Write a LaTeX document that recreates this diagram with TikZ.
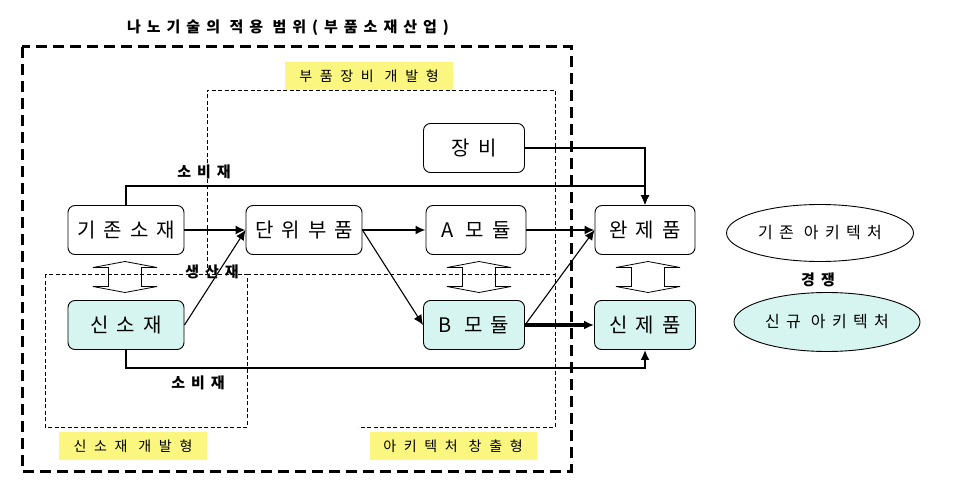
\documentclass[tikz,border=0pt]{standalone}
\usepackage{fontspec}
\setmainfont{Noto Sans CJK KR}[LetterSpace=40]
\newfontfamily\widefont{Noto Sans CJK KR}[LetterSpace=55]
\usetikzlibrary{shapes.geometric,arrows.meta}
\definecolor{newcyan}{RGB}{214,245,240}
\definecolor{tagyellow}{RGB}{250,246,128}
\tikzstyle{box}=[draw,rounded corners=7pt,minimum height=49pt,inner sep=0pt,line width=0.9pt,font=\fontsize{20}{22}\selectfont]
\tikzstyle{newbox}=[box,fill=newcyan]
\tikzstyle{arch}=[draw,ellipse,minimum width=187pt,minimum height=57pt,inner sep=0pt,line width=0.9pt,font=\fontsize{16}{18}\selectfont]
\tikzstyle{tag}=[fill=tagyellow,minimum height=28pt,inner sep=0pt,font=\widefont\fontsize{14}{16}\selectfont]
\tikzstyle{flowlabel}=[font=\bfseries\fontsize{15}{17}\selectfont]
\tikzstyle{flow}=[line width=1.8pt,-{Latex[length=10pt,width=9pt]}]
\tikzstyle{thinflow}=[line width=1.1pt,-{Latex[length=10pt,width=9pt]}]
\tikzstyle{region}=[dashed,line width=0.7pt,dash pattern=on 4pt off 2.5pt]
\tikzset{swaparrow/.pic={
    \draw[line width=0.8pt] (0,-15.5) -- (32,-9.5) -- (16.5,-9.5) -- (16.5,9.5) -- (32,9.5)
      -- (0,15.5) -- (-32,9.5) -- (-16.5,9.5) -- (-16.5,-9.5) -- (-32,-9.5) -- cycle;}}

\begin{document}
\begin{tikzpicture}[x=1pt,y=-1pt]
    \useasboundingbox[fill=white] (0,0) rectangle (957,494);
    % scope of nanotech
    \draw[line width=3pt,dash pattern=on 11pt off 6pt] (22,47) rectangle (571,471);
    \node[font=\bfseries\fontsize{15}{17}\selectfont] (title) at (288,28) {나노기술의 적용 범위(부품소재산업)};

    % substitution arrows
    \pic at (125,277) {swaparrow};
    \pic at (479,277) {swaparrow};
    \pic at (648,277) {swaparrow};

    % development types
    \draw[region] (207,274) -- (207,90) -- (555,90) -- (555,427) -- (358,427);
    \draw[region] (247,274) -- (555,274);
    \draw[region] (45,274) rectangle (247,427);
    \node[tag,minimum width=168pt] (partdev) at (369,76) {부품장비 개발형};
    \node[tag,minimum width=148pt] (matdev)  at (133,446) {신소재 개발형};
    \node[tag,minimum width=167pt] (archdev) at (453,446) {아키텍처 창출형};

    % nodes
    \node[box,minimum width=116pt] (kizon)  at (126,230) {기존소재};
    \node[newbox,minimum width=116pt] (sinso) at (126,325) {신소재};
    \node[box,minimum width=116pt] (danwi)  at (304,230) {단위부품};
    \node[box,minimum width=101pt] (jangbi)  at (474,148) {장비};
    \node[box,minimum width=100pt] (amod)    at (476,230) {A 모듈};
    \node[newbox,minimum width=101pt] (bmod) at (474,325) {B 모듈};
    \node[box,minimum width=100pt] (wan)     at (645,230) {완제품};
    \node[newbox,minimum width=101pt] (sinje) at (645,325) {신제품};
    \node[arch] (oldarch) at (820,233) {기존 아키텍처};
    \node[arch,fill=newcyan,minimum width=186pt,minimum height=59pt] (newarch) at (827,322) {신규 아키텍처};
    \node[flowlabel] (compete) at (818,280) {경쟁};

    % flows
    \draw[flow] (kizon.north) -- ++(0,-19) -| (wan.north);
    \draw[flow] (jangbi.east) -| (wan.north);
    \draw[flow] (sinso.south) -- ++(0,18) -| (sinje.south);
    \foreach \from/\to in {kizon/danwi,danwi/amod,amod/wan}
    \draw[flow] (\from) -- (\to);
    \foreach \from/\to in {sinso.east/danwi.west,danwi.east/bmod.west,bmod.east/wan.west}
    \draw[thinflow] (\from) -- (\to);
    \draw[line width=3.2pt,-{Latex[length=10pt,width=9pt]}] (bmod) -- (sinje);

    \node[flowlabel] (cons1) at (204,172) {소비재};
    \node[flowlabel] (prod)  at (212,272) {생산재};
    \node[flowlabel] (cons2) at (198,383) {소비재};
\end{tikzpicture}
\end{document}
